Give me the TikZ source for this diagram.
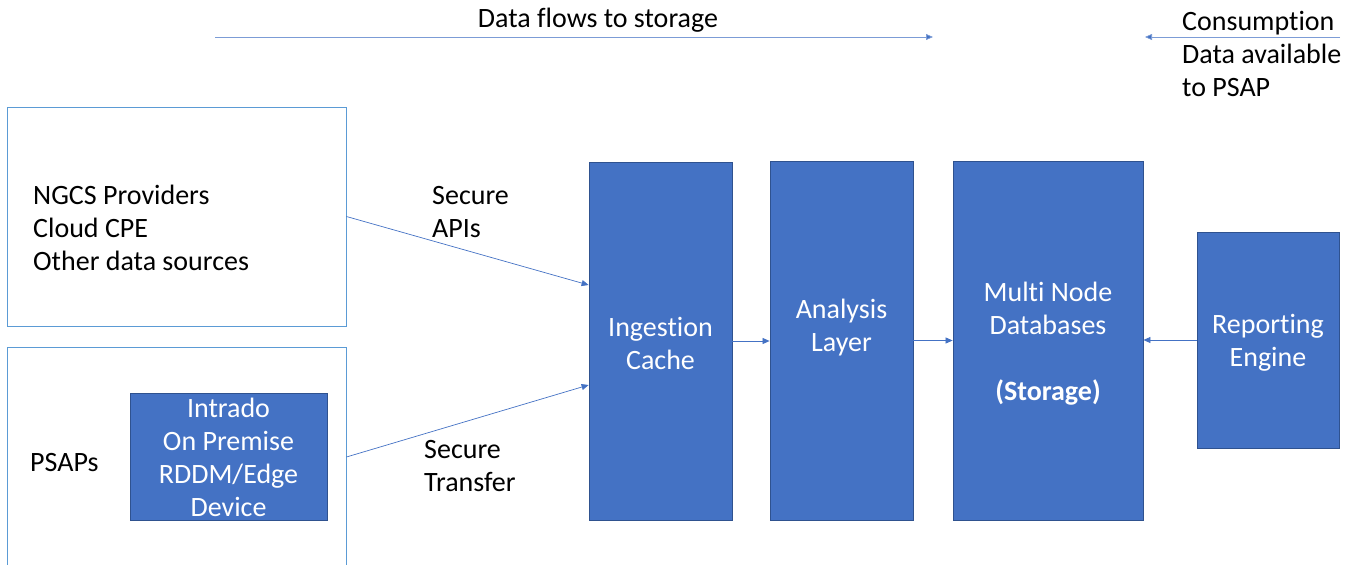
\documentclass[tikz,border=0pt]{standalone}
\usepackage{fontspec}
\setmainfont{Carlito}[Ligatures=NoCommon]
\usetikzlibrary{arrows.meta,calc}
\definecolor{boxblue}{HTML}{4472C4}
\definecolor{boxedge}{HTML}{2F528F}
\definecolor{frameblue}{HTML}{5B9BD5}
\begin{document}
\begin{tikzpicture}[x=1pt,y=-1pt,
  txt/.style={font=\fontsize{28}{33}\selectfont, inner sep=0pt},
  block/.style={draw=boxedge, fill=boxblue, line width=0.8pt, inner sep=0pt},
  blocktext/.style={txt, text=white, align=center},
  frame/.style={draw=frameblue, line width=0.9pt, inner sep=0pt},
  flow/.style={draw=boxblue, line width=0.7pt, -{Triangle[length=7pt,width=6pt]}},
  topflow/.style={draw=boxblue!70, line width=0.7pt, -{Triangle[length=7pt,width=6pt,fill=boxblue]}}]
\useasboundingbox (0,0) rectangle (1353,565);
\clip (0,0) rectangle (1353,565);

% header arrows and captions
\coordinate (flowA) at (215,37);
\coordinate (flowB) at (933,37);
\coordinate (consA) at (1340,37);
\coordinate (consB) at (1145,37);
\draw[topflow] (flowA) -- (flowB);
\draw[topflow] (consA) -- (consB);
\node[txt] (flowlabel) at (598,20) {Data flows to storage};
\node[txt, anchor=west, align=left] (conslabel) at (1182,54) {Consumption\\Data available\\to PSAP};

% data sources
\node[frame, minimum width=339pt, minimum height=219pt] (sources) at (176.5,216.5) {};
\node[txt, anchor=west, align=left] (sourcetext) at (33,228) {NGCS Providers\\Cloud CPE\\Other data sources};
\node[frame, minimum width=339pt, minimum height=260pt] (psaps) at (176.5,477) {};
\node[txt, anchor=west] (psaptext) at (30,463) {PSAPs};
\node[block, minimum width=197pt, minimum height=127pt] (edge) at (228.5,456.5) {};
\node[blocktext] (edgetext) at ($(edge.center)+(0,1)$) {Intrado\\On Premise\\RDDM/Edge\\Device};

% processing pipeline
\node[block, minimum width=143pt, minimum height=358pt] (ingest) at (660.5,341) {};
\node[blocktext] at ($(ingest.center)+(0,2)$) {Ingestion\\Cache};
\node[block, minimum width=143pt, minimum height=359pt] (analysis) at (841.5,340.5) {};
\node[blocktext] at ($(analysis.center)+(0,-13)$) {Analysis\\Layer};
\node[block, minimum width=190pt, minimum height=359pt] (storage) at (1048,340.5) {};
\node[blocktext] at ($(storage.center)+(0,3)$) {Multi Node\\Databases\\[33pt]\textbf{(Storage)}};
\node[block, minimum width=142pt, minimum height=216pt] (report) at (1268,340) {};
\node[blocktext] at ($(report.center)+(0,3)$) {Reporting\\Engine};

% connectors
\draw[flow] (sources.east) -- ($(ingest.west)+(0,-56)$);
\draw[flow] ($(psaps.east)+(0,-20)$) -- ($(ingest.west)+(0,44)$);
\node[txt, anchor=west, align=left] (apilabel) at (432,212) {Secure\\APIs};
\node[txt, anchor=west, align=left] (xferlabel) at (424,466) {Secure\\Transfer};
\draw[flow] (ingest.east) -- (ingest.east -| analysis.west);
\draw[flow] (analysis.east) -- (analysis.east -| storage.west);
\draw[flow] (report.west) -- (report.west -| storage.east);
\end{tikzpicture}
\end{document}
